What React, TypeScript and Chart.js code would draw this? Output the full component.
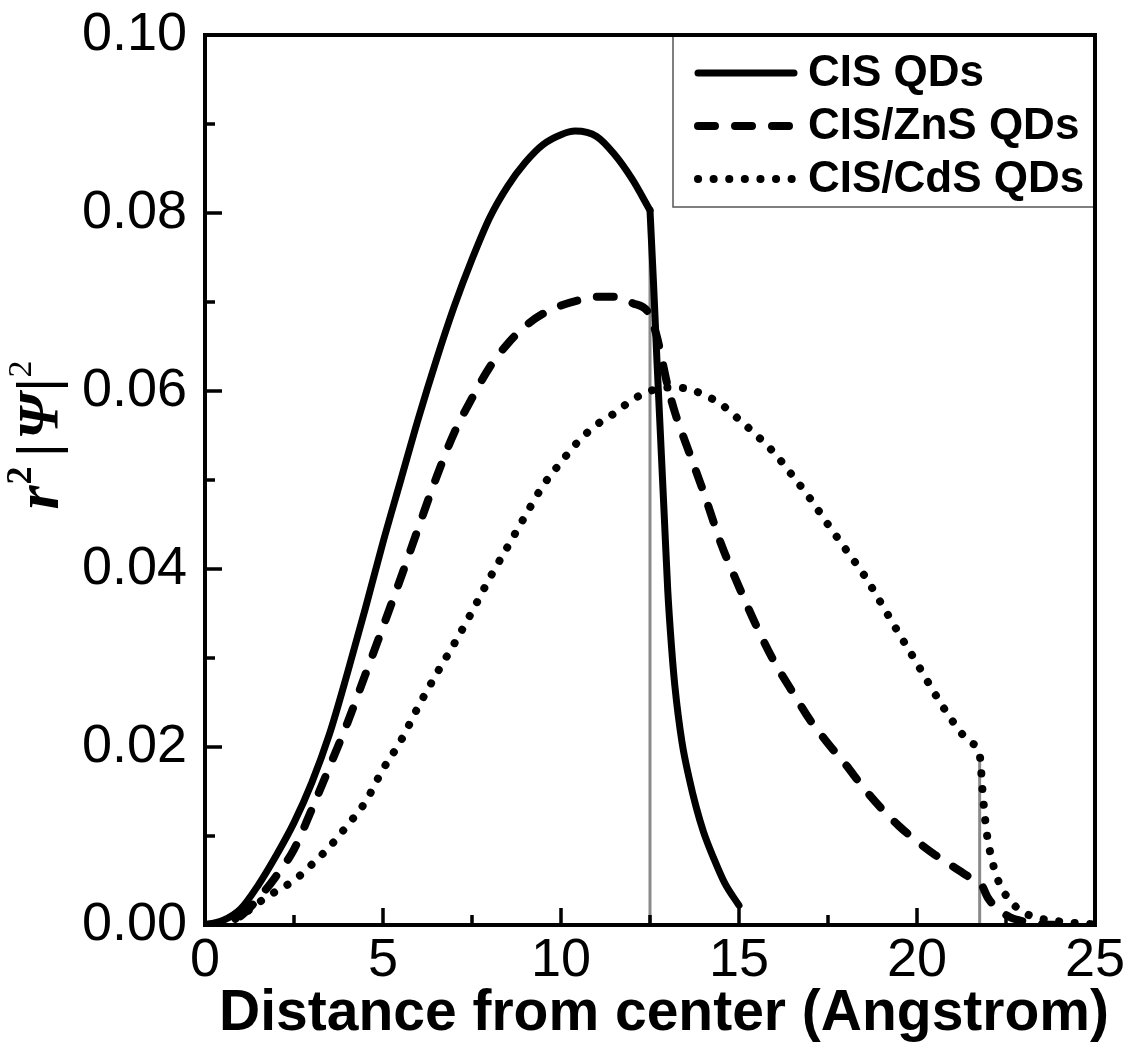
import React, { useEffect, useRef } from "react";
import { Chart, registerables } from "chart.js";

Chart.register(...registerables);

// ---------- data ----------
// CIS QDs: core region (0 .. 12.5) and barrier tail (12.5 .. 15)
const cisX = [0, 0.5, 1, 1.5, 2, 2.5, 3, 3.5, 4, 4.5, 5, 5.5, 6, 6.5, 7, 7.5, 8, 8.5, 9, 9.5, 10, 10.4, 11, 11.5, 12, 12.5, 12.6, 12.7, 12.8, 12.9, 13.0, 13.1, 13.2, 13.4, 13.6, 13.8, 14.0, 14.3, 14.6, 15.0];
const cisY = [0, 0.0005, 0.0018, 0.0045, 0.0078, 0.0115, 0.016, 0.0215, 0.0283, 0.0355, 0.043, 0.05, 0.057, 0.0635, 0.0695, 0.0748, 0.0795, 0.083, 0.0857, 0.0877, 0.0888, 0.0892, 0.0886, 0.0866, 0.0838, 0.0803, 0.072, 0.063, 0.0545, 0.046, 0.0375, 0.0315, 0.0268, 0.0205, 0.0165, 0.0132, 0.0105, 0.0074, 0.0047, 0.0022];
const cisKinkX = 12.5;

const znsX = [0, 0.5, 1, 1.5, 2, 2.5, 3, 3.5, 4, 4.5, 5, 5.5, 6, 6.5, 7, 7.5, 8, 8.5, 9, 9.5, 10, 10.5, 11, 11.5, 12, 12.5, 12.7, 13, 13.2, 13.6, 14, 14.5, 15, 15.5, 16, 16.5, 17, 17.5, 18, 18.5, 19, 19.5, 20, 20.5, 21, 21.5, 21.8, 22, 22.3, 22.6, 23, 23.5, 24];
const znsY = [0, 0.0002, 0.001, 0.003, 0.0055, 0.0085, 0.013, 0.0178, 0.0227, 0.0281, 0.0335, 0.039, 0.0447, 0.0503, 0.0553, 0.0592, 0.0627, 0.0653, 0.0673, 0.0687, 0.0696, 0.0702, 0.0706, 0.0706, 0.0699, 0.0685, 0.066, 0.0605, 0.0576, 0.0531, 0.0487, 0.0428, 0.038, 0.0335, 0.0295, 0.0262, 0.023, 0.0204, 0.018, 0.0154, 0.0131, 0.0111, 0.0094, 0.0079, 0.0066, 0.0053, 0.0046, 0.003, 0.0017, 0.0009, 0.0004, 0.0001, 0];

const cdsX = [0, 0.5, 1, 1.5, 2, 2.5, 3, 3.5, 4, 4.5, 5, 5.5, 6, 6.5, 7, 7.5, 8, 8.5, 9, 9.5, 10, 10.5, 11, 11.5, 12, 12.5, 13, 13.5, 14, 14.5, 15, 15.5, 16, 16.5, 17, 17.5, 18, 18.5, 19, 19.5, 20, 20.5, 21, 21.5, 21.76, 21.85, 21.95, 22.1, 22.3, 22.6, 23, 23.5, 24, 24.5, 25];
const cdsY = [0, 0.0002, 0.001, 0.0025, 0.0038, 0.005, 0.0068, 0.0088, 0.0112, 0.0138, 0.0175, 0.0207, 0.0246, 0.0282, 0.0316, 0.0352, 0.039, 0.0425, 0.046, 0.0494, 0.052, 0.0544, 0.0562, 0.0575, 0.059, 0.06, 0.0604, 0.0603, 0.0596, 0.0585, 0.0568, 0.055, 0.053, 0.0505, 0.0479, 0.045, 0.0422, 0.0394, 0.0361, 0.0327, 0.0294, 0.026, 0.0229, 0.0205, 0.0191, 0.0146, 0.0106, 0.0074, 0.0048, 0.0028, 0.0014, 0.0007, 0.0004, 0.0002, 0.0001];

// interfaces (grey vertical markers)
const interfaceX = [12.5, 21.76];
const interfaceTop = [0.0803, 0.0191];

const legendLabels = ["CIS QDs", "CIS/ZnS QDs", "CIS/CdS QDs"];
const xTickValues = [0, 5, 10, 15, 20, 25];
const xMinorTicks = [2.5, 7.5, 12.5, 17.5, 22.5];
const yTickValues = [0, 0.02, 0.04, 0.06, 0.08, 0.1];
const yMinorTicks = [0.01, 0.03, 0.05, 0.07, 0.09];
const xTitle = "Distance from center (Angstrom)";

const SANS = "'Liberation Sans', Arial, sans-serif";
const SERIF = "'Liberation Serif', 'Times New Roman', serif";

const DASH_DASHED = [17, 20];
const DASH_DOTTED = [0.1, 15.5];

const toPts = (xs: number[], ys: number[]) => xs.map((x, i) => ({ x, y: ys[i] }));

const framePlugin = {
  id: "frameAndDecor",
  afterDraw(chart: any) {
    const { ctx, chartArea: a, scales } = chart;
    const xs = scales.x;
    const ys = scales.y;
    ctx.save();
    // legend box
    const lb = { l: 673, t: a.top, r: a.right, b: 207 };
    ctx.strokeStyle = "#555";
    ctx.lineWidth = 1.5;
    ctx.strokeRect(lb.l, lb.t, lb.r - lb.l, lb.b - lb.t);
    const rows = [73, 126, 179];
    const styles = [
      { dash: [] as number[], w: 7 },
      { dash: DASH_DASHED, w: 8 },
      { dash: DASH_DOTTED, w: 8 },
    ];
    for (let i = 0; i < 3; i++) {
      ctx.beginPath();
      ctx.setLineDash(styles[i].dash);
      ctx.lineCap = "round";
      ctx.lineWidth = styles[i].w;
      ctx.strokeStyle = "#000";
      ctx.moveTo(698, rows[i]);
      ctx.lineTo(794, rows[i]);
      ctx.stroke();
      ctx.setLineDash([]);
      ctx.fillStyle = "#000";
      ctx.font = `bold 44px ${SANS}`;
      ctx.textBaseline = "middle";
      ctx.textAlign = "left";
      ctx.fillText(legendLabels[i], 808, rows[i] + 1);
    }

    // frame
    ctx.lineCap = "butt";
    ctx.strokeStyle = "#000";
    ctx.lineWidth = 4;
    ctx.strokeRect(a.left, a.top, a.right - a.left, a.bottom - a.top);

    // inward ticks
    ctx.lineWidth = 3.5;
    ctx.beginPath();
    for (const v of xTickValues) {
      const p = xs.getPixelForValue(v);
      ctx.moveTo(p, a.bottom);
      ctx.lineTo(p, a.bottom - 17);
    }
    for (const v of xMinorTicks) {
      const p = xs.getPixelForValue(v);
      ctx.moveTo(p, a.bottom);
      ctx.lineTo(p, a.bottom - 10);
    }
    for (const v of yTickValues) {
      const p = ys.getPixelForValue(v);
      ctx.moveTo(a.left, p);
      ctx.lineTo(a.left + 17, p);
    }
    for (const v of yMinorTicks) {
      const p = ys.getPixelForValue(v);
      ctx.moveTo(a.left, p);
      ctx.lineTo(a.left + 10, p);
    }
    ctx.stroke();

    // x axis title
    ctx.fillStyle = "#000";
    ctx.font = `bold 57px ${SANS}`;
    ctx.textAlign = "center";
    ctx.textBaseline = "alphabetic";
    ctx.fillText(xTitle, 664, 1030);

    // y axis title: r^2 |Ψ|^2
    ctx.translate(58, 435);
    ctx.rotate(-Math.PI / 2);
    ctx.textBaseline = "alphabetic";
    ctx.textAlign = "left";
    const parts = [
      { t: "r", f: `italic bold 62px ${SERIF}`, dy: 0, gap: 1 },
      { t: "2", f: `bold 36px ${SERIF}`, dy: -27, gap: 10 },
      { t: "|", f: `bold 58px ${SERIF}`, dy: -2, gap: 4 },
      { t: "\u03A8", f: `italic bold 58px ${SERIF}`, dy: 0, gap: 2 },
      { t: "|", f: `bold 58px ${SERIF}`, dy: -2, gap: 1 },
      { t: "2", f: `34px ${SERIF}`, dy: -27, gap: 0 },
    ];
    let total = 0;
    for (const p of parts) {
      ctx.font = p.f;
      total += ctx.measureText(p.t).width + p.gap;
    }
    let cx = -total / 2;
    for (const p of parts) {
      ctx.font = p.f;
      ctx.fillText(p.t, cx, p.dy);
      cx += ctx.measureText(p.t).width + p.gap;
    }
    ctx.restore();
  },
};

export default function App() {
  const ref = useRef<HTMLCanvasElement | null>(null);
  useEffect(() => {
    document.body.style.margin = "0";
    const canvas = ref.current;
    if (!canvas) return;
    const lineBase = {
      borderColor: "#000",
      pointRadius: 0,
      fill: false,
      borderCapStyle: "round",
      borderJoinStyle: "round",
      cubicInterpolationMode: "monotone",
    };
    const cisPts = toPts(cisX, cisY);
    const cisCore = cisPts.filter((p) => p.x <= cisKinkX);
    const cisTail = cisPts.filter((p) => p.x >= cisKinkX);
    const chart = new Chart(canvas, {
      type: "line",
      data: {
        datasets: [
          { ...lineBase, label: legendLabels[0], data: cisCore, borderWidth: 7 },
          { ...lineBase, label: legendLabels[0] + " (tail)", data: cisTail, borderWidth: 7 },
          { ...lineBase, label: legendLabels[1], data: toPts(znsX, znsY), borderWidth: 8, borderDash: DASH_DASHED },
          { ...lineBase, label: legendLabels[2], data: toPts(cdsX, cdsY), borderWidth: 8, borderDash: DASH_DOTTED },
          ...interfaceX.map((x, i) => ({
            label: "interface" + i,
            data: [{ x, y: 0 }, { x, y: interfaceTop[i] }],
            borderColor: "#8a8a8a",
            borderWidth: 3,
            pointRadius: 0,
            tension: 0,
            fill: false,
          })),
        ] as any,
      },
      options: {
        animation: false,
        responsive: false,
        devicePixelRatio: 1,
        layout: { padding: { left: 0, top: 35, right: 39, bottom: 0 } },
        plugins: { legend: { display: false }, tooltip: { enabled: false } },
        scales: {
          x: {
            type: "linear",
            min: 0,
            max: 25,
            afterBuildTicks: (s: any) => {
              s.ticks = xTickValues.map((v) => ({ value: v }));
            },
            ticks: {
              callback: (v: any) => String(v),
              font: { family: SANS, size: 54 },
              color: "#000",
              padding: 4,
              maxRotation: 0,
              autoSkip: false,
            },
            grid: { display: false, drawTicks: false },
            border: { display: false },
            afterFit: (s: any) => {
              s.height = 139;
              s.paddingLeft = 0;
              s.paddingRight = 0;
            },
          },
          y: {
            type: "linear",
            min: 0,
            max: 0.1,
            afterBuildTicks: (s: any) => {
              s.ticks = yTickValues.map((v) => ({ value: v }));
            },
            ticks: {
              callback: (v: any) => Number(v).toFixed(2),
              font: { family: SANS, size: 54 },
              color: "#000",
              padding: 18,
              autoSkip: false,
            },
            grid: { display: false, drawTicks: false },
            border: { display: false },
            afterFit: (s: any) => {
              s.width = 205;
              s.paddingTop = 0;
              s.paddingBottom = 0;
            },
          },
        },
      } as any,
      plugins: [framePlugin],
    });
    return () => chart.destroy();
  }, []);
  return (
    <div style={{ width: 1134, height: 1064, background: "#fff" }}>
      <canvas ref={ref} width={1134} height={1064} style={{ display: "block" }} />
    </div>
  );
}
